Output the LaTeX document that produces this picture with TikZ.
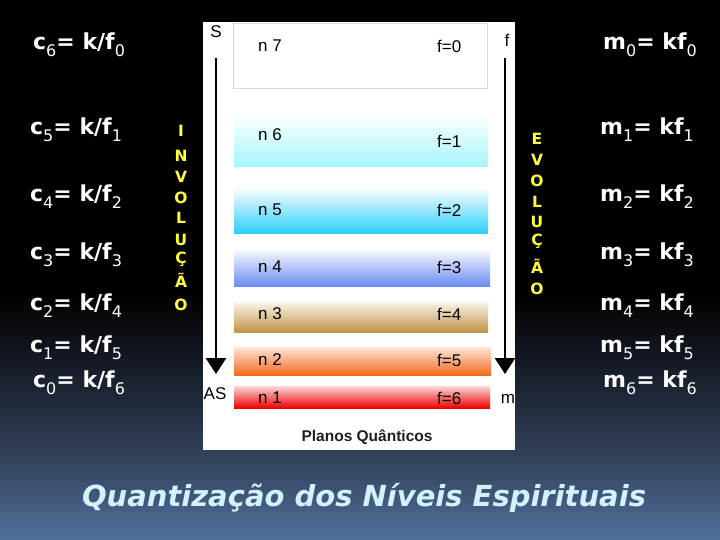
\documentclass[tikz,border=0pt]{standalone}
\usepackage{fontspec}
\setmainfont{Liberation Sans}
\newfontfamily\eqfont{DejaVu Sans}
\usetikzlibrary{arrows.meta}
\definecolor{bgB}{HTML}{52709E}
\definecolor{bgM}{HTML}{35455F}
\definecolor{bgD}{HTML}{161C28}
\definecolor{yel}{HTML}{FFFF3C}
\definecolor{ttl}{HTML}{D2F2FF}
\definecolor{c6b}{HTML}{A6F6FC}
\definecolor{c5b}{HTML}{2CCFF8}
\definecolor{c4b}{HTML}{6B8CF2}
\definecolor{c3t}{HTML}{FAF4EA}
\definecolor{c3b}{HTML}{BF9445}
\definecolor{c2t}{HTML}{FDE6DA}
\definecolor{c2b}{HTML}{F26B1C}
\definecolor{c1t}{HTML}{FBD8D8}
\definecolor{c1b}{HTML}{EE0000}
\pgfdeclareverticalshading{bgshade}{100bp}{color(0bp)=(bgB); color(25bp)=(bgB); color(32bp)=(bgM); color(41bp)=(bgD); color(48bp)=(black); color(100bp)=(black)}
\newcommand\lowsub[1]{\raisebox{-0.33em}{\fontsize{16}{16}\selectfont\mdseries #1}}
\begin{document}
\begin{tikzpicture}[x=1pt,y=-1pt,
  eq/.style={font=\eqfont\bfseries\fontsize{22}{22}\selectfont, text=white, inner sep=0pt, anchor=west},
  vlet/.style={font=\eqfont\bfseries\fontsize{15.5}{15.5}\selectfont, text=yel, inner sep=0pt},
  band/.style={minimum width=254pt, inner sep=0pt, draw=none},
  lab/.style={font=\fontsize{17}{17}\selectfont, inner sep=0pt, anchor=west},
  side/.style={font=\fontsize{17}{17}\selectfont, inner sep=0pt},
  bigarrow/.style={line width=2.6pt, -{Triangle[width=20pt,length=16pt]}}]
\useasboundingbox (0,0) rectangle (720,540);
\shade[shading=bgshade] (0,0) rectangle (720,540);
% panel
\fill[white] (203,22) rectangle (515,450);
% bands
\node[band, fill=white, draw=black!15, line width=0.8pt, minimum height=65pt] (b7) at (360.5,55.5) {};
\node[band, top color=white, bottom color=c6b, minimum height=54pt] (b6) at (361,140) {};
\node[band, top color=white, bottom color=c5b, minimum height=46pt] (b5) at (361,210) {};
\node[band, top color=white, bottom color=c4b, minimum height=38pt, minimum width=256pt] (b4) at (362,267) {};
\node[band, top color=c3t, bottom color=c3b, minimum height=30pt] (b3) at (361,317) {};
\node[band, top color=c2t, bottom color=c2b, minimum height=28pt, minimum width=257pt] (b2) at (362.5,361) {};
\node[band, top color=c1t, bottom color=c1b, minimum height=22pt, minimum width=256pt] (b1) at (362,397) {};
% band labels
\node[lab] (n7) at (258,46) {n 7};
\node[lab] (f0) at (437,46) {f=0};
\node[lab] (n6) at (258,135) {n 6};
\node[lab] (f1) at (437,141) {f=1};
\node[lab] (n5) at (258,210) {n 5};
\node[lab] (f2) at (437,210) {f=2};
\node[lab] (n4) at (258,267) {n 4};
\node[lab] (f3) at (437,267) {f=3};
\node[lab] (n3) at (258,314) {n 3};
\node[lab] (f4) at (437,314) {f=4};
\node[lab] (n2) at (258,360) {n 2};
\node[lab] (f5) at (437,360) {f=5};
\node[lab] (n1) at (258,398) {n 1};
\node[lab] (f6) at (437,398) {f=6};
% side letters
\node[side] (S) at (216,32) {S};
\node[side] (fr) at (507,40) {f};
\node[side] (AS) at (215,394) {AS};
\node[side] (m) at (508,399) {m};
% arrows
\coordinate (lt) at (216,58);
\coordinate (lb) at (216,374);
\coordinate (rt) at (505,58);
\coordinate (rb) at (505,374);
\draw[bigarrow] (lt) -- (lb);
\draw[bigarrow] (rt) -- (rb);
% caption
\node[font=\bfseries\fontsize{15.5}{15.5}\selectfont, text=black!88, inner sep=0pt] (pq) at (367,437) {Planos Quânticos};
% left equations
\node[eq] (c6) at (33,45) {c\lowsub{6}= k/f\lowsub{0}};
\node[eq] (c5) at (30,130) {c\lowsub{5}= k/f\lowsub{1}};
\node[eq] (c4) at (30,197) {c\lowsub{4}= k/f\lowsub{2}};
\node[eq] (c3) at (30,255) {c\lowsub{3}= k/f\lowsub{3}};
\node[eq] (c2) at (30,306) {c\lowsub{2}= k/f\lowsub{4}};
\node[eq] (c1) at (30,348) {c\lowsub{1}= k/f\lowsub{5}};
\node[eq] (c0) at (33,383) {c\lowsub{0}= k/f\lowsub{6}};
% right equations
\node[eq] (m0) at (603,45) {m\lowsub{0}= kf\lowsub{0}};
\node[eq] (m1) at (600,130) {m\lowsub{1}= kf\lowsub{1}};
\node[eq] (m2) at (600,197) {m\lowsub{2}= kf\lowsub{2}};
\node[eq] (m3) at (600,255) {m\lowsub{3}= kf\lowsub{3}};
\node[eq] (m4) at (600,306) {m\lowsub{4}= kf\lowsub{4}};
\node[eq] (m5) at (600,348) {m\lowsub{5}= kf\lowsub{5}};
\node[eq] (m6) at (603,383) {m\lowsub{6}= kf\lowsub{6}};
% INVOLUCAO
\foreach \l/\yy [count=\i] in {I/131,N/156,V/177,O/198,L/218,U/240,Ç/259,Ã/280,O/305}
  \node[vlet] (inv\i) at (181,\yy) {\l};
% EVOLUCAO
\foreach \l/\yy [count=\i] in {E/139,V/160,O/181,L/202,U/222,Ç/241,Ã/266,O/289}
  \node[vlet] (evo\i) at (537,\yy) {\l};
% title
\node[font=\eqfont\bfseries\itshape\fontsize{29}{29}\selectfont, text=ttl, inner sep=0pt] (title) at (364,498) {Quantização dos Níveis Espirituais};
\end{tikzpicture}
\end{document}
